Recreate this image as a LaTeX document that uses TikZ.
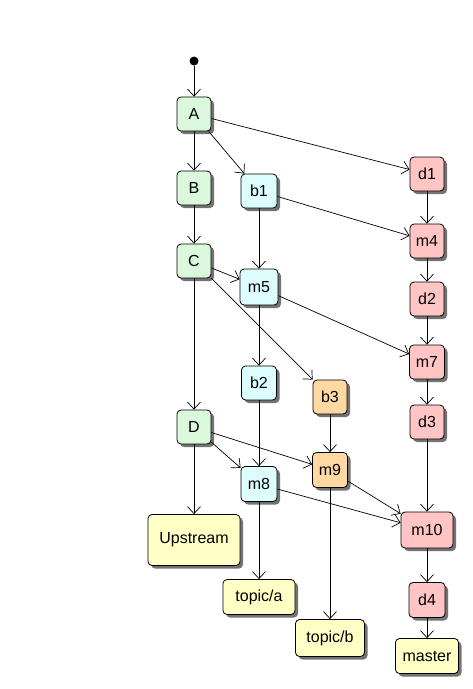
\documentclass[tikz,border=0pt]{standalone}
\usepackage{fontspec}
\setmainfont{Liberation Sans}
\usetikzlibrary{arrows.meta,shadows}

\definecolor{upfill}{HTML}{DCF8DC}
\definecolor{topicfill}{HTML}{DDFDFD}
\definecolor{mainfill}{HTML}{FFC4C4}
\definecolor{sidefill}{HTML}{FFD8A2}
\definecolor{reffill}{HTML}{FFFFC6}

\tikzset{
  state/.style={draw=black, line width=0.8pt, rounded corners=4pt,
    minimum width=34pt, minimum height=34pt, inner sep=2pt,
    font=\fontsize{16}{19}\selectfont,
    general shadow={fill=black!55, shadow xshift=3pt, shadow yshift=-3pt}},
  up/.style={state, fill=upfill},
  topic/.style={state, fill=topicfill},
  mainline/.style={state, fill=mainfill},
  side/.style={state, fill=sidefill},
  ref/.style={state, fill=reffill, inner sep=4pt},
  edge/.style={line width=0.7pt, -{Straight Barb[length=7pt,width=13pt]}}
}

\begin{document}
\begin{tikzpicture}[x=1pt,y=-1pt]
  \fill[white] (0,0) rectangle (473,689);
  \useasboundingbox (0,0) rectangle (473,689);

  % initial marker
  \node[circle, fill=black, inner sep=0pt, minimum size=9pt] (start) at (194,61) {};

  % upstream commits
  \node[up] (A) at (194,114) {A};
  \node[up] (B) at (194,188) {B};
  \node[up] (C) at (194,261) {C};
  \node[up] (D) at (194,427) {D};

  % topic commits and merges
  \node[topic, minimum width=36pt] (b1) at (259,191) {b1};
  \node[topic, minimum width=38pt, minimum height=36pt] (m5) at (259,287) {m5};
  \node[topic, minimum width=35pt] (b2) at (259,383) {b2};
  \node[topic, minimum width=36pt, minimum height=35pt] (m8) at (259,484) {m8};

  % second topic
  \node[side] (b3) at (330,397) {b3};
  \node[side, minimum width=35pt, minimum height=35pt] (m9) at (330,470) {m9};

  % master line
  \node[mainline] (d1) at (427,174) {d1};
  \node[mainline] (m4) at (427,241) {m4};
  \node[mainline] (d2) at (427,299) {d2};
  \node[mainline, minimum width=35pt] (m7) at (427,362) {m7};
  \node[mainline] (d3) at (427,422) {d3};
  \node[mainline, minimum width=52pt, minimum height=36pt] (m10) at (427,530) {m10};
  \node[mainline, minimum width=36pt, minimum height=35pt] (d4) at (427,600) {d4};

  % branch labels
  \node[ref, minimum width=92pt, minimum height=51pt] (upstream) at (194,540) {Upstream};
  \node[ref, minimum width=72pt, minimum height=35pt] (ta) at (259,597) {topic/a};
  \node[ref, minimum width=69pt, minimum height=37pt] (tb) at (330,638) {topic/b};
  \node[ref, minimum width=63pt, minimum height=35pt] (master) at (427,656) {master};

  % history edges
  \draw[edge] (start) -- (A);
  \draw[edge] (A) -- (B);
  \draw[edge] (A) -- (b1);
  \draw[edge] (A) -- (d1);
  \draw[edge] (B) -- (C);
  \draw[edge] (b1) -- (m5);
  \draw[edge] (b1) -- (m4);
  \draw[edge] (d1) -- (m4);
  \draw[edge] (C) -- (m5);
  \draw[edge] (C) -- (D);
  \draw[edge] (C) -- (b3);
  \draw[edge] (m4) -- (d2);
  \draw[edge] (m5) -- (m7);
  \draw[edge] (m5) -- (b2);
  \draw[edge] (d2) -- (m7);
  \draw[edge] (m7) -- (d3);
  \draw[edge] (b2) -- (m8);
  \draw[edge] (b3) -- (m9);
  \draw[edge] (d3) -- (m10);
  \draw[edge] (D) -- (m8);
  \draw[edge] (D) -- (m9);
  \draw[edge] (D) -- (upstream);
  \draw[edge] (m8) -- (m10);
  \draw[edge] (m8) -- (ta);
  \draw[edge] (m9) -- (m10);
  \draw[edge] (m9) -- (tb);
  \draw[edge] (m10) -- (d4);
  \draw[edge] (d4) -- (master);
\end{tikzpicture}
\end{document}
